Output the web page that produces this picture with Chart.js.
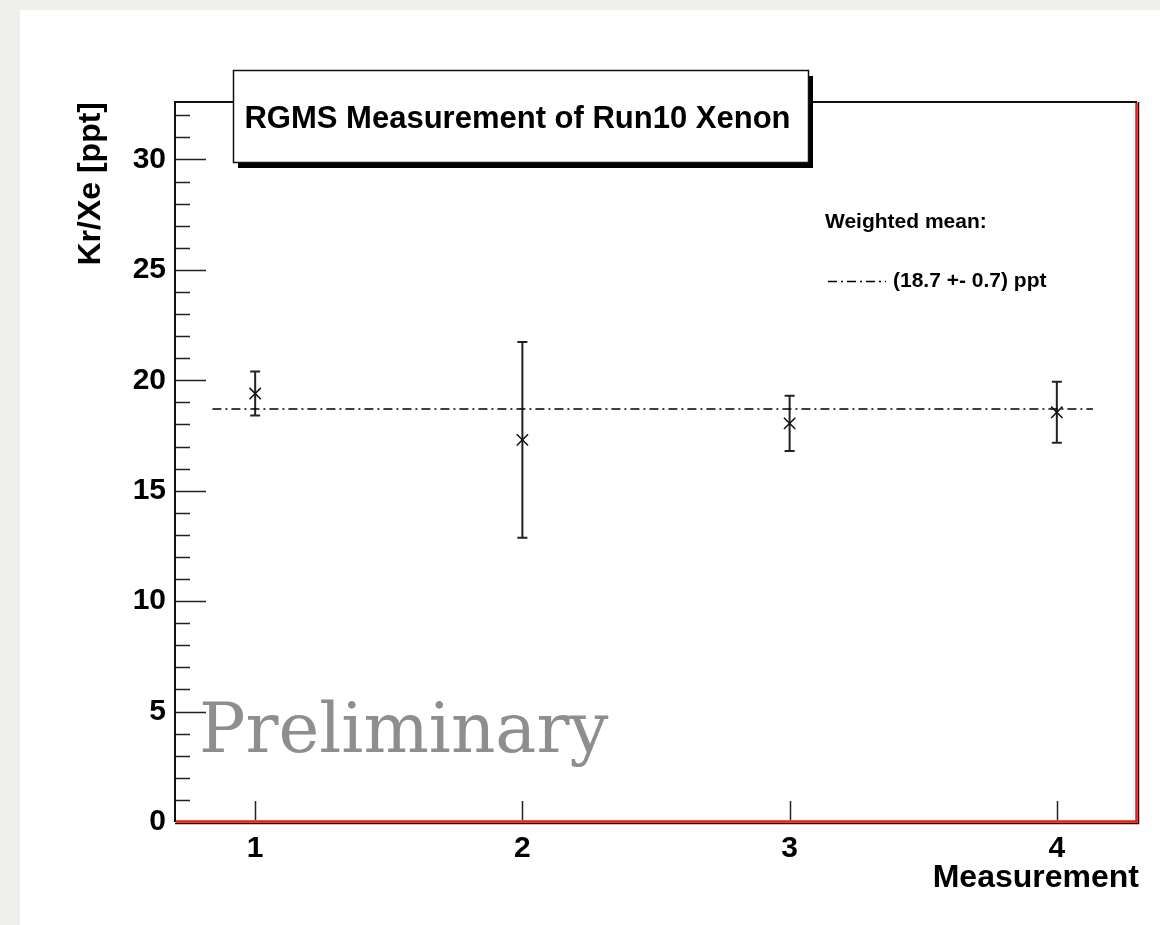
<!DOCTYPE html>
<html>
<head>
<meta charset="utf-8">
<title>RGMS Measurement of Run10 Xenon</title>
<script src="https://cdn.jsdelivr.net/npm/chart.js@4.4.1/dist/chart.umd.min.js"></script>
<style>
    html, body { margin: 0; padding: 0; background: #eeeeeb; }
    #rgmsChart { display: block; }
</style>
</head>
<body>
<canvas id="rgmsChart" width="1160" height="925"></canvas>
<script>
// ============================
// Data
// ============================
const MEASUREMENTS = [1, 2, 3, 4];
const KR_XE = [19.4, 17.3, 18.05, 18.55];
const KR_XE_ERR = [1.0, 4.43, 1.25, 1.38];

const MEAN_VALUE = 18.7;
const MEAN_ERR = 0.7;
const MEAN_SPAN = [0.84, 4.135];

const X_RANGE = [0.7, 4.3];
const Y_RANGE = [0, 32.6];
const X_TICKS = [1, 2, 3, 4];
const Y_TICKS = [0, 5, 10, 15, 20, 25, 30];
const Y_MINOR_STEP = 1;

const TITLE = 'RGMS Measurement of Run10 Xenon';
const X_TITLE = 'Measurement';
const Y_TITLE = 'Kr/Xe [ppt]';
const LEGEND_HEADER = 'Weighted mean:';
const WATERMARK = 'Preliminary';

const SANS = '"Liberation Sans", Arial, sans-serif';

// ============================
// ROOT-style decorations
// ============================
const rootStylePlugin = {
    id: 'rootStyle',

    beforeDraw(chart) {
        const { ctx, width, height } = chart;
        ctx.save();
        ctx.fillStyle = '#eeeeeb';
        ctx.fillRect(0, 0, width, height);
        ctx.fillStyle = '#ffffff';
        ctx.fillRect(20, 10, width - 20, height - 10);
        ctx.restore();
    },

    beforeDatasetsDraw(chart) {
        const { ctx } = chart;
        const xs = chart.scales.x, ys = chart.scales.y;

        // watermark
        ctx.save();
        ctx.fillStyle = '#8e8e8e';
        ctx.font = '69px "DejaVu Serif", serif';
        ctx.textAlign = 'left';
        ctx.textBaseline = 'alphabetic';
        ctx.fillText(WATERMARK, 199, 752);
        ctx.restore();

        // error bars
        ctx.save();
        ctx.strokeStyle = '#222';
        ctx.lineWidth = 2;
        MEASUREMENTS.forEach((m, i) => {
            const x = xs.getPixelForValue(m);
            const yHi = ys.getPixelForValue(KR_XE[i] + KR_XE_ERR[i]);
            const yLo = ys.getPixelForValue(KR_XE[i] - KR_XE_ERR[i]);
            ctx.beginPath();
            ctx.moveTo(x, yHi); ctx.lineTo(x, yLo);
            ctx.moveTo(x - 5, yHi); ctx.lineTo(x + 5, yHi);
            ctx.moveTo(x - 5, yLo); ctx.lineTo(x + 5, yLo);
            ctx.stroke();
        });
        ctx.restore();
    },

    afterDraw(chart) {
        const { ctx, chartArea: a } = chart;
        const xs = chart.scales.x, ys = chart.scales.y;

        ctx.save();

        // inward ticks (the one at 0 sits on the frame)
        ctx.strokeStyle = '#222';
        ctx.lineWidth = 1.5;
        ctx.beginPath();
        for (let v = Y_RANGE[0] + Y_MINOR_STEP; v <= Y_RANGE[1]; v += Y_MINOR_STEP) {
            const y = Math.round(ys.getPixelForValue(v)) + 0.5;
            const len = Y_TICKS.includes(v) ? 31 : 15;
            ctx.moveTo(a.left, y); ctx.lineTo(a.left + len, y);
        }
        X_TICKS.forEach(v => {
            const x = Math.round(xs.getPixelForValue(v)) + 0.5;
            ctx.moveTo(x, a.bottom - 2); ctx.lineTo(x, a.bottom - 21);
        });
        ctx.stroke();

        // frame: black top/left, red right/bottom with dark outer edge
        ctx.strokeStyle = '#111';
        ctx.lineWidth = 2;
        ctx.beginPath();
        ctx.moveTo(a.left, a.bottom);
        ctx.lineTo(a.left, a.top);
        ctx.lineTo(a.right, a.top);
        ctx.stroke();

        ctx.lineWidth = 1.5;
        ctx.beginPath();
        ctx.moveTo(a.left, a.bottom + 1.5);
        ctx.lineTo(a.right + 1.5, a.bottom + 1.5);
        ctx.lineTo(a.right + 1.5, a.top);
        ctx.stroke();
        ctx.strokeStyle = '#ee1a0e';
        ctx.lineWidth = 2.5;
        ctx.beginPath();
        ctx.moveTo(a.left + 1, a.bottom - 0.5);
        ctx.lineTo(a.right - 0.5, a.bottom - 0.5);
        ctx.lineTo(a.right - 0.5, a.top + 1);
        ctx.stroke();

        // axis titles
        ctx.fillStyle = '#000';
        ctx.font = `bold 32px ${SANS}`;
        ctx.textAlign = 'right';
        ctx.textBaseline = 'alphabetic';
        ctx.fillText(X_TITLE, a.right + 2, 887);

        ctx.save();
        ctx.translate(100, a.top);
        ctx.rotate(-Math.PI / 2);
        ctx.textAlign = 'right';
        ctx.fillText(Y_TITLE, 0, 0);
        ctx.restore();

        // title box with shadow
        const bx = 233, by = 70, bw = 575, bh = 92;
        ctx.fillStyle = '#000';
        ctx.fillRect(bx + 5, by + 6, bw, bh);
        ctx.fillStyle = '#fff';
        ctx.fillRect(bx, by, bw, bh);
        ctx.strokeStyle = '#111';
        ctx.lineWidth = 1.5;
        ctx.strokeRect(bx + 0.5, by + 0.5, bw, bh);
        ctx.fillStyle = '#000';
        ctx.font = `bold 31px ${SANS}`;
        ctx.textAlign = 'center';
        ctx.fillText(TITLE, bx + bw / 2 - 3, 128);

        // legend
        ctx.font = `bold 21px ${SANS}`;
        ctx.textAlign = 'left';
        ctx.textBaseline = 'middle';
        ctx.fillText(LEGEND_HEADER, 825, 222);
        ctx.fillText(`(${MEAN_VALUE} +- ${MEAN_ERR}) ppt`, 893, 281);
        ctx.strokeStyle = '#000';
        ctx.lineWidth = 1.5;
        ctx.setLineDash([9, 4, 2, 4]);
        ctx.beginPath();
        ctx.moveTo(828, 281.5); ctx.lineTo(886, 281.5);
        ctx.stroke();
        ctx.setLineDash([]);

        ctx.restore();
    }
};

// ============================
// Chart
// ============================
class RgmsChart {
    constructor() {
        this.chart = null;
        this.init();
    }

    init() {
        const ctx = document.getElementById('rgmsChart');
        if (!ctx) return console.warn('canvas #rgmsChart not found');

        this.chart = new Chart(ctx.getContext('2d'), {
            type: 'scatter',
            data: {
                datasets: [{
                    label: 'Kr/Xe',
                    data: MEASUREMENTS.map((m, i) => ({ x: m, y: KR_XE[i] })),
                    pointStyle: 'crossRot',
                    pointRadius: 8,
                    borderColor: '#111',
                    borderWidth: 1.5,
                    order: 0
                }, {
                    label: 'Weighted mean',
                    type: 'line',
                    data: MEAN_SPAN.map(x => ({ x, y: MEAN_VALUE })),
                    borderColor: '#000',
                    borderWidth: 1.7,
                    borderDash: [9, 4, 2, 4],
                    pointRadius: 0,
                    fill: false,
                    order: 1
                }]
            },
            options: {
                responsive: false,
                animation: false,
                devicePixelRatio: 1,
                layout: { padding: { top: 102, right: 23, bottom: 0, left: 0 } },
                plugins: {
                    legend: { display: false },
                    title: { display: false },
                    tooltip: { enabled: false }
                },
                scales: {
                    x: {
                        type: 'linear',
                        min: X_RANGE[0],
                        max: X_RANGE[1],
                        grid: { display: false, drawTicks: false },
                        border: { display: false },
                        afterBuildTicks: s => { s.ticks = X_TICKS.map(value => ({ value })); },
                        afterFit: s => { s.height = 103; },
                        ticks: {
                            padding: 9,
                            color: '#000',
                            font: { family: SANS, size: 30, weight: 'bold' },
                            maxRotation: 0
                        }
                    },
                    y: {
                        type: 'linear',
                        min: Y_RANGE[0],
                        max: Y_RANGE[1],
                        grid: { display: false, drawTicks: false },
                        border: { display: false },
                        afterBuildTicks: s => { s.ticks = Y_TICKS.map(value => ({ value })); },
                        afterFit: s => { s.width = 175; },
                        ticks: {
                            padding: 9,
                            color: '#000',
                            font: { family: SANS, size: 30, weight: 'bold' }
                        }
                    }
                }
            },
            plugins: [rootStylePlugin]
        });
    }
}

new RgmsChart();
</script>
</body>
</html>
